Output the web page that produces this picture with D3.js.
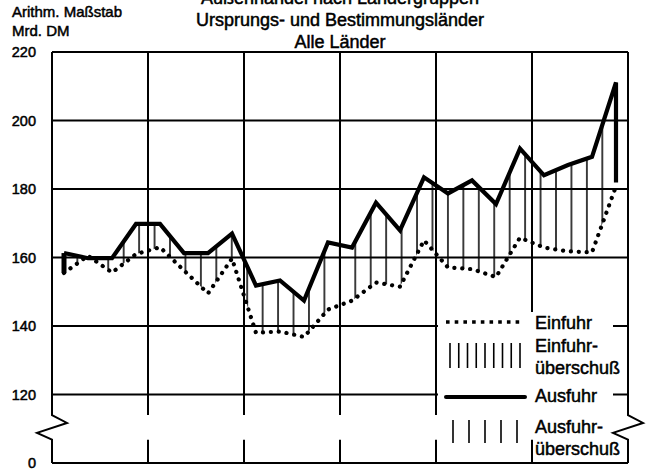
<!DOCTYPE html>
<html>
<head>
<meta charset="utf-8">
<script src="https://cdn.jsdelivr.net/npm/d3@7"></script>
<style>
  body { margin: 0; background: #fff; }
  text { font-family: "Liberation Sans", Arial, sans-serif; fill: #000; stroke: #000; stroke-width: 0.5px; }
</style>
</head>
<body>
<div id="chart"></div>
<script>
// quarter index (6 years x 4 quarters), values in Mrd. DM
const quarters = [0, 1, 2, 3, 4, 5, 6, 7, 8, 9, 10, 11, 12, 13, 14, 15, 16, 17, 18, 19, 20, 21, 22, 23];
const ausfuhr = [161.3, 159.8, 159.8, 169.8, 169.8, 161.3, 161.3, 167.0, 151.8, 153.3, 147.4, 164.4,
                 162.9, 176.0, 167.9, 183.4, 178.7, 182.5, 175.6, 191.8, 184.0, 187.0, 189.4, 211.1];
const ausfuhrEnd = 181.9; // last drop of the export line
const einfuhr = [155.5, 160.5, 155.6, 161.0, 163.0, 156.2, 149.5, 159.7, 138.0, 138.4, 136.8, 144.8,
                 147.4, 152.7, 151.5, 165.0, 157.1, 156.6, 154.3, 165.8, 162.9, 161.8, 161.5, 180.8];
const yTicks = [220, 200, 180, 160, 140, 120, 100];
const yTickLabels = ["220", "200", "180", "160", "140", "120", "0"];
const years = [0, 4, 8, 12, 16, 20, 24];
const titleLines = ["Außenhandel nach Ländergruppen", "Ursprungs- und Bestimmungsländer", "Alle Länder"];
const legendItems = [
  { key: "einfuhr", label: ["Einfuhr"] },
  { key: "einfuhrUeber", label: ["Einfuhr-", "überschuß"] },
  { key: "ausfuhr", label: ["Ausfuhr"] },
  { key: "ausfuhrUeber", label: ["Ausfuhr-", "überschuß"] }
];

const W = 653, H = 473;
const margin = { top: 52, right: 25, bottom: 10, left: 52 };
const width = W - margin.left - margin.right;
const height = H - margin.top - margin.bottom;

const svg = d3.select("#chart").append("svg")
  .attr("width", W).attr("height", H);

const hatchW = 15.44;
svg.append("defs").append("pattern")
  .attr("id", "hatch")
  .attr("patternUnits", "userSpaceOnUse")
  .attr("width", hatchW).attr("height", 20)
  .attr("x", 118 - hatchW / 2)
  .append("line")
  .attr("x1", hatchW / 2).attr("x2", hatchW / 2)
  .attr("y1", 0).attr("y2", 20)
  .attr("stroke", "#000").attr("stroke-width", 1.5);

const g = svg.append("g").attr("transform", `translate(${margin.left},${margin.top})`);

const x = d3.scaleLinear().domain([0, 24]).range([0, width]);
const y = d3.scaleLinear().domain([100, 220]).range([height, 0]);

const breakTop = 114, breakBot = 106.8;

// horizontal grid
g.selectAll(".hgrid").data(yTicks).enter().append("line")
  .attr("x1", 0).attr("x2", width)
  .attr("y1", d => y(d)).attr("y2", d => y(d))
  .attr("stroke", "#000").attr("stroke-width", 2);

// vertical grid, interrupted at the axis break
years.slice(1, -1).forEach(v => {
  [[220, breakTop], [breakBot, 100]].forEach(([a, b]) => {
    g.append("line")
      .attr("x1", x(v)).attr("x2", x(v))
      .attr("y1", y(a)).attr("y2", y(b))
      .attr("stroke", "#000").attr("stroke-width", 2);
  });
});

// left and right borders with zigzag break
const zig = x0 => d3.line()([
  [x0, y(220)], [x0, y(breakTop)],
  [x0 + 15, y(111.7)], [x0 - 15, y(108.8)],
  [x0, y(breakBot)], [x0, y(100)]
]);
[0, 24].forEach(v => {
  g.append("path").attr("d", zig(x(v)))
    .attr("fill", "none").attr("stroke", "#000").attr("stroke-width", 2);
});

// tick labels
g.selectAll(".ytick").data(yTicks).enter().append("text")
  .attr("x", -16).attr("y", d => y(d) + 5)
  .attr("text-anchor", "end")
  .attr("font-size", "14.5px")
  .text((d, i) => yTickLabels[i]);

// axis titles
svg.append("text").attr("x", 12).attr("y", 17).attr("font-size", "15px").text("Arithm. Maßstab");
svg.append("text").attr("x", 12).attr("y", 36).attr("font-size", "15px").text("Mrd. DM");

// chart title (first line runs off the top like in the scan)
svg.selectAll(".title").data(titleLines).enter().append("text")
  .attr("x", margin.left + width / 2)
  .attr("y", (d, i) => 4 + i * 22)
  .attr("text-anchor", "middle")
  .attr("font-size", "18px")
  .text(d => d);

// surplus area with hatch
const data = quarters.map((q, i) => ({ q, a: ausfuhr[i], e: einfuhr[i] }));
const area = d3.area()
  .x(d => x(d.q + 0.5))
  .y0(d => y(d.e))
  .y1(d => y(d.a));
g.append("path").datum(data).attr("d", area).attr("fill", "url(#hatch)");
g.append("line")
  .attr("x1", x(quarters[0] + 0.5)).attr("x2", x(quarters[0] + 0.5))
  .attr("y1", y(ausfuhr[0])).attr("y2", y(einfuhr[0]))
  .attr("stroke", "#000").attr("stroke-width", 5);

const line = d3.line().x(d => x(d[0] + 0.5)).y(d => y(d[1]));

// Einfuhr dotted
g.append("path")
  .attr("d", line(quarters.map((q, i) => [q, einfuhr[i]])))
  .attr("fill", "none").attr("stroke", "#000")
  .attr("stroke-width", 4.2).attr("stroke-linecap", "round")
  .attr("stroke-dasharray", "0.1 7.8");

// Ausfuhr solid
const ausPts = quarters.map((q, i) => [q, ausfuhr[i]]);
ausPts.push([quarters[quarters.length - 1], ausfuhrEnd]);
g.append("path")
  .attr("d", line(ausPts))
  .attr("fill", "none").attr("stroke", "#000")
  .attr("stroke-width", 4.2);

// legend
const lg = svg.append("g").attr("class", "legend");
lg.append("rect").attr("x", 438).attr("y", 312).attr("width", 175).attr("height", 103).attr("fill", "#fff");
lg.append("line").attr("x1", 446).attr("x2", 523).attr("y1", 322).attr("y2", 322)
  .attr("stroke", "#000").attr("stroke-width", 3.6).attr("stroke-dasharray", "3.6 5.1");
d3.range(9).forEach(i => {
  lg.append("line").attr("x1", 450 + i * 8.75).attr("x2", 450 + i * 8.75)
    .attr("y1", 343).attr("y2", 368).attr("stroke", "#000").attr("stroke-width", 1.6);
});
lg.append("line").attr("x1", 446).attr("x2", 525).attr("y1", 397).attr("y2", 397)
  .attr("stroke", "#000").attr("stroke-width", 4).attr("stroke-linecap", "round");
d3.range(5).forEach(i => {
  lg.append("line").attr("x1", 453 + i * 16).attr("x2", 453 + i * 16)
    .attr("y1", 420).attr("y2", 443).attr("stroke", "#000").attr("stroke-width", 1.6);
});
const labelY = { einfuhr: [329], einfuhrUeber: [352, 374], ausfuhr: [402], ausfuhrUeber: [433, 455] };
legendItems.forEach(it => {
  it.label.forEach((t, j) => {
    lg.append("text").attr("x", 535).attr("y", labelY[it.key][j])
      .attr("font-size", "18px").text(t);
  });
});
</script>
</body>
</html>
